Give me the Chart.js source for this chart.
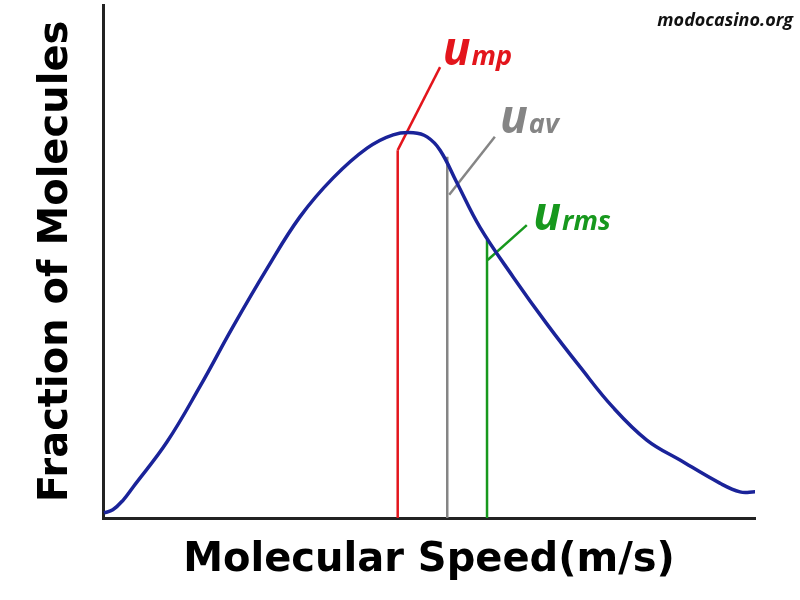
<!DOCTYPE html>
<html>
<head>
<meta charset="utf-8">
<script src="https://cdn.jsdelivr.net/npm/chart.js@4"></script>
<style>
  html, body { margin: 0; padding: 0; background: #fff; }
  #wrap { width: 800px; height: 600px; }
</style>
</head>
<body>
<div id="wrap"><canvas id="chart" width="800" height="600"></canvas></div>
<script>
// ===== DATA (speed and fraction in arbitrary units, 0-100) =====
const speed    = [0.15, 1.5, 3.1, 4.6, 9.8, 14.9, 19.9, 25.2, 30.2, 35.3, 40.5, 44.5, 47.6, 49.7, 51.7, 54.3, 57.8, 62.9, 68.1, 73.2, 78.2, 83.4, 88.5, 94.6, 97.7, 100];
const fraction = [1.0, 1.6, 3.5, 6.0, 14.8, 25.7, 37.2, 48.7, 58.7, 66.3, 72.1, 74.7, 75.1, 74.3, 71.7, 65.3, 56.7, 47.0, 37.8, 29.4, 21.6, 15.2, 11.3, 6.8, 5.1, 5.1];

// characteristic speeds: most probable, average, root mean square
const markerNames = ["mp", "av", "rms"];
const markerSpeed = [45.2, 52.8, 58.9];
const markerTop   = [71.7, 70.4, 54.2];

// leader lines from each marker up to its label (data units)
const leaderStartX = [45.2, 53.1, 59.0];
const leaderStartY = [71.7, 63.0, 50.3];
const leaderEndX   = [51.7, 60.1, 65.0];
const leaderEndY   = [87.9, 74.3, 57.1];
const labelX       = [52.1, 60.9, 66.0];
const labelY       = [88.3, 75.0, 56.1];

const markerColors = ["#e3151c", "#858585", "#17981d"];
const curveColor = "#1a2399";

/* ===== DATASETS ===== */
const datasets = [{
    data: speed.map((s, i) => ({ x: s, y: fraction[i] })),
    borderColor: curveColor,
    borderWidth: 3.5,
    pointRadius: 0,
    tension: 0.4
}];

markerNames.forEach((name, i) => {
    datasets.push({
        data: [{ x: markerSpeed[i], y: 0 }, { x: markerSpeed[i], y: markerTop[i] }],
        borderColor: markerColors[i],
        borderWidth: 2.5,
        pointRadius: 0
    });
    datasets.push({
        data: [{ x: leaderStartX[i], y: leaderStartY[i] }, { x: leaderEndX[i], y: leaderEndY[i] }],
        borderColor: markerColors[i],
        borderWidth: 2.5,
        pointRadius: 0
    });
});

/* ===== LABELS u_mp, u_av, u_rms + WATERMARK ===== */
const labelPlugin = {
    id: "speedLabels",
    afterDatasetsDraw(chart) {
        const { ctx, scales } = chart;
        ctx.save();
        ctx.textBaseline = "alphabetic";
        ctx.textAlign = "left";
        markerNames.forEach((name, i) => {
            const px = scales.x.getPixelForValue(labelX[i]);
            const py = scales.y.getPixelForValue(labelY[i]);
            ctx.fillStyle = markerColors[i];
            ctx.font = "italic bold 46px 'Open Sans'";
            ctx.fillText("u", px, py);
            const w = ctx.measureText("u").width;
            ctx.font = "italic bold 27px 'Open Sans'";
            ctx.fillText(name, px + w + 1, py);
        });
        ctx.fillStyle = "#111";
        ctx.font = "italic bold 18px 'Open Sans'";
        ctx.textAlign = "right";
        ctx.fillText("modocasino.org", 793, 26);
        ctx.restore();
    }
};

const titleFont = { family: "'DejaVu Sans'", size: 40, weight: "bold", lineHeight: 1.2 };

new Chart(document.getElementById("chart"), {
    type: "line",
    data: { datasets },
    options: {
        responsive: false,
        animation: false,
        layout: { padding: { top: 5, right: 45, bottom: 0, left: 0 } },
        plugins: { legend: { display: false }, tooltip: { enabled: false } },
        scales: {
            x: {
                type: "linear",
                min: 0,
                max: 100,
                grid: { display: false },
                ticks: { display: false },
                border: { display: true, color: "#222", width: 3 },
                title: {
                    display: true,
                    text: "Molecular Speed(m/s)",
                    color: "#000",
                    font: titleFont,
                    padding: { top: 11, bottom: 15 }
                }
            },
            y: {
                min: 0,
                max: 100,
                grid: { display: false },
                ticks: { display: false },
                border: { display: true, color: "#222", width: 3 },
                title: {
                    display: true,
                    text: "Fraction of Molecules",
                    color: "#000",
                    font: titleFont,
                    padding: { top: 33, bottom: 14 }
                }
            }
        }
    },
    plugins: [labelPlugin]
});
</script>
</body>
</html>
